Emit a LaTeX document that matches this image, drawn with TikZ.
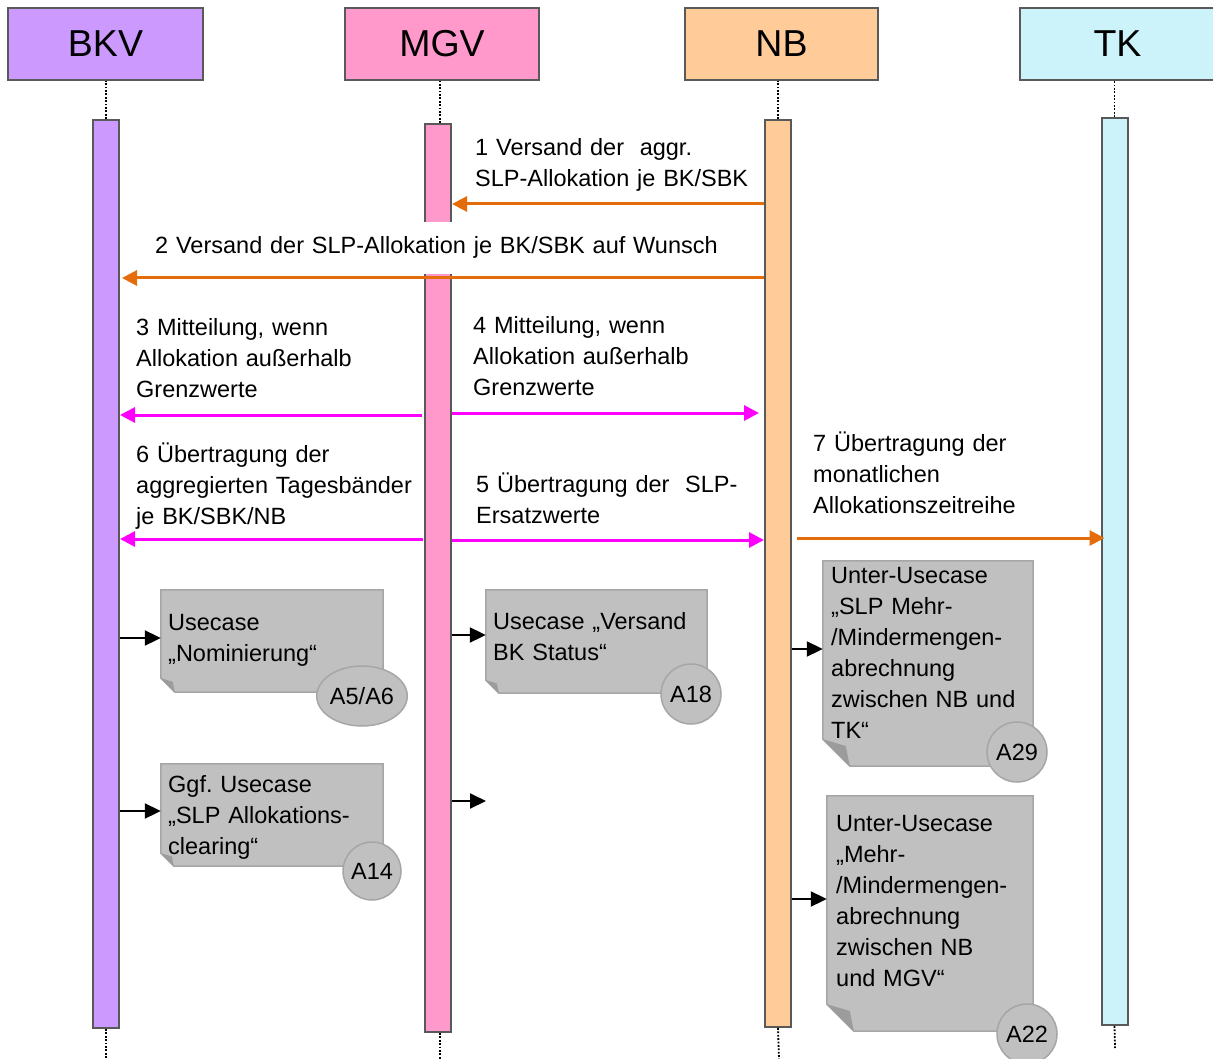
\documentclass[tikz,border=0pt]{standalone}
\usepackage{fontspec}
\setmainfont{Liberation Sans}
\usetikzlibrary{arrows.meta,shapes.geometric,calc,fit}
\frenchspacing
\definecolor{cbkv}{HTML}{CC99FF}
\definecolor{cmgv}{HTML}{FF99CC}
\definecolor{cnb}{HTML}{FFCC99}
\definecolor{ctk}{HTML}{CCF2FA}
\definecolor{cborder}{HTML}{595959}
\definecolor{corange}{HTML}{E46C0A}
\definecolor{cmag}{HTML}{FF00FF}
\definecolor{cnote}{HTML}{C0C0C0}
\definecolor{cnoteb}{HTML}{A6A6A6}
\definecolor{cfold}{HTML}{9C9C9C}
\newcommand\labfont{\fontsize{23.5}{31}\selectfont}
\newcommand\drawnote[6]{%
  \node[fit={(#2,#3) (#4,#5)}, inner sep=0pt] (#1) {};
  \filldraw[notebg] (#1.north west) -- (#1.north east) -- (#1.south east)
    -- ($(#1.south west)+(#6,0)$) -- ($(#1.south west)+(0,-#6)$) -- cycle;
  \fill[cfold] ($(#1.south west)+(0,-#6)$) -- ($(#1.south west)+({0.85*#6},{-0.75*#6})$)
    -- ($(#1.south west)+(#6,0)$) -- cycle;
}
\begin{document}
\begin{tikzpicture}[x=1pt,y=-1pt,
  head/.style={draw=cborder, line width=2pt, minimum height=72pt, inner sep=0pt,
    font=\fontsize{37.5}{40}\selectfont},
  lbar/.style={draw=cborder, line width=2pt, minimum width=26pt, inner sep=0pt},
  dotl/.style={line width=1.8pt, dash pattern=on 1.8pt off 1.6pt},
  lbl/.style={inner sep=0pt, anchor=base west, align=left, text width=#1, font=\labfont},
  ormsg/.style={draw=corange, line width=3pt, -{Triangle[length=15pt,width=15pt]}},
  mgmsg/.style={draw=cmag, line width=3pt, -{Triangle[length=15pt,width=15pt]}},
  blk/.style={line width=2pt, -{Triangle[length=16pt,width=15pt]}},
  notebg/.style={fill=cnote, draw=cnoteb, line width=1.5pt},
  badge/.style={circle, fill=cnote, draw=cnoteb, line width=1.5pt, minimum size=60pt,
    inner sep=0pt, font=\labfont}
]
\useasboundingbox (0,0) rectangle (1213,1059);

% headers
\node[head, fill=cbkv, minimum width=195pt] (bkv) at (105.5,44) {BKV};
\node[head, fill=cmgv, minimum width=194pt] (mgv) at (442,44) {MGV};
\node[head, fill=cnb, minimum width=193pt] (nb) at (781.5,44) {NB};
\node[head, fill=ctk, minimum width=195pt] (tk) at (1117.5,44) {TK};

% lifeline bars
\node[lbar, fill=cbkv, minimum height=908pt] (bkvbar) at (106,574) {};
\node[lbar, fill=cmgv, minimum height=908pt] (mgvbar) at (438,578) {};
\node[lbar, fill=cnb, minimum height=907pt] (nbbar) at (778,573.5) {};
\node[lbar, fill=ctk, minimum height=907pt] (tkbar) at (1114.5,571.5) {};

% dotted lines
\coordinate (bkvend) at (106,1059);
\coordinate (mgvend) at (440,1059);
\coordinate (nbend) at (779,1059);
\coordinate (tkend) at (1115,1048);
\draw[dotl] (bkvbar.north) -- (bkvbar.north |- bkv.south);
\draw[dotl] ([xshift=2pt]mgvbar.north) -- ([xshift=2pt]mgvbar.north |- mgv.south);
\draw[dotl] (nbbar.north) -- (nbbar.north |- nb.south);
\draw[dotl] (tkbar.north) -- (tkbar.north |- tk.south);
\draw[dotl] (bkvbar.south) -- (bkvend);
\draw[dotl] ([xshift=2pt]mgvbar.south) -- (mgvend);
\draw[dotl] (nbbar.south) -- (nbend);
\draw[dotl] (tkbar.south) -- (tkend);

% message labels
\node[lbl=300pt] (l1) at (475,156) {1 Versand der\ \ aggr.\\SLP-Allokation je BK/SBK};
\node[lbl=590pt, fill=white, inner ysep=15pt] (l2) at (155,254) {2 Versand der SLP-Allokation je BK/SBK auf Wunsch};
\node[lbl=290pt] (l3) at (136,336) {3 Mitteilung, wenn\\Allokation außerhalb\\Grenzwerte};
\node[lbl=290pt] (l4) at (473,334) {4 Mitteilung, wenn\\Allokation außerhalb\\Grenzwerte};
\node[lbl=290pt] (l6) at (136,462) {6 Übertragung der\\aggregierten Tagesbänder\\je BK/SBK/NB};
\node[lbl=290pt] (l5) at (476,492) {5 Übertragung der\ \ SLP-\\Ersatzwerte};
\node[lbl=290pt] (l7) at (813,451) {7 Übertragung der\\monatlichen\\Allokationszeitreihe};

% message levels
\coordinate (y1) at (0,204);
\coordinate (y2) at (0,278);
\coordinate (y3) at (0,415);
\coordinate (y4) at (0,413);
\coordinate (y6) at (0,539);
\coordinate (y5) at (0,540);
\coordinate (y7) at (0,538);

\draw[ormsg] (nbbar.west |- y1) -- (mgvbar.east |- y1);
\draw[ormsg, shorten >=2pt] (nbbar.west |- y2) -- (bkvbar.east |- y2);
\draw[mgmsg, shorten <=2pt] (mgvbar.west |- y3) -- (bkvbar.east |- y3);
\draw[mgmsg, shorten >=5pt] (mgvbar.east |- y4) -- (nbbar.west |- y4);
\draw[mgmsg, shorten <=1pt] (mgvbar.west |- y6) -- (bkvbar.east |- y6);
\draw[mgmsg] (mgvbar.east |- y5) -- (nbbar.west |- y5);
\draw[ormsg, shorten <=5pt, shorten >=-4pt] (nbbar.east |- y7) -- (tkbar.west |- y7);

% notes
\drawnote{n1}{161}{590}{383}{692}{14}
\drawnote{n2}{161}{764}{383}{866}{13}
\drawnote{n3}{486}{590}{707}{693}{13}
\drawnote{n4}{823}{561}{1033}{766}{27}
\drawnote{n5}{827}{796}{1033}{1031}{27}

\node[lbl=210pt] (n1t) at (168,630) {Usecase\\„Nominierung“};
\node[lbl=210pt] (n2t) at (168,792) {Ggf. Usecase\\„SLP Allokations-\\clearing“};
\node[lbl=210pt] (n3t) at (493,629) {Usecase „Versand\\BK Status“};
\node[lbl=200pt] (n4t) at (831,583) {Unter-Usecase\\„SLP Mehr-\\/Mindermengen-\\abrechnung\\zwischen NB und\\TK“};
\node[lbl=200pt] (n5t) at (836,831) {Unter-Usecase\\„Mehr-\\/Mindermengen-\\abrechnung\\zwischen NB\\und MGV“};

% badges
\node[badge, ellipse, minimum width=80pt, minimum height=60pt] (b1) at (362,696) {A5/A6};
\node[badge, minimum size=58pt] (b2) at (372,871) {A14};
\node[badge] (b3) at (691,694) {A18};
\node[badge] (b4) at (1017,752) {A29};
\node[badge] (b5) at (1027,1034) {A22};

% trigger arrows
\coordinate (ya) at (0,638);
\coordinate (yb) at (0,811);
\coordinate (yc) at (0,635);
\coordinate (ye) at (0,649);
\coordinate (yf) at (0,899);
\coordinate (dend) at (486,801);
\draw[blk] (bkvbar.east |- ya) -- (n1.west |- ya);
\draw[blk] (bkvbar.east |- yb) -- (n2.west |- yb);
\draw[blk] (mgvbar.east |- yc) -- (n3.west |- yc);
\draw[blk] (mgvbar.east |- dend) -- (dend);
\draw[blk] (nbbar.east |- ye) -- (n4.west |- ye);
\draw[blk] (nbbar.east |- yf) -- (n5.west |- yf);
\end{tikzpicture}
\end{document}
